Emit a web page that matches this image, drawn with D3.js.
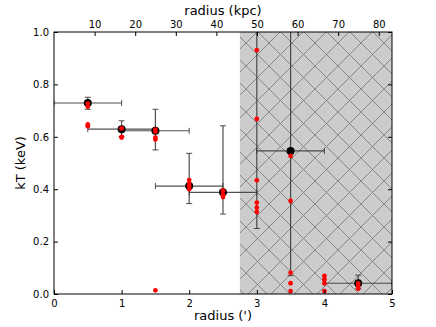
<!DOCTYPE html>
<html>
<head>
<meta charset="utf-8">
<script src="https://cdn.jsdelivr.net/npm/d3@7"></script>
<style>
  body { margin: 0; background: #fff; }
  text { font-family: "DejaVu Sans", sans-serif; fill: #000; }
</style>
</head>
<body>
<div id="chart"></div>
<script>
// binned fit results
const radius = [0.5, 1.0, 1.5, 2.0, 2.5, 3.0, 3.5, 4.5];
const rLo = [0.0, 0.5, 1.0, 1.5, 2.0, 2.5, 3.0, 4.0];
const rHi = [1.0, 1.5, 2.0, 2.5, 3.0, 3.5, 4.0, 5.0];
const kT = [0.729, 0.629, 0.623, 0.412, 0.388, 1.2, 0.546, 0.041];
const kTLo = [0.705, 0.60, 0.55, 0.345, 0.305, 0.25, 0.07, 0.02];
const kTHi = [0.751, 0.661, 0.705, 0.537, 0.642, 1.5, 1.5, 0.072];

// individual fits (red)
const redR = [0.5, 0.5, 0.5, 0.5, 1.0, 1.0, 1.0, 1.5, 1.5, 1.5, 1.5, 1.5,
  2.0, 2.0, 2.0, 2.0, 2.5, 2.5, 2.5, 3.0, 3.0, 3.0, 3.0, 3.0, 3.0,
  3.5, 3.5, 3.5, 3.5, 3.5, 4.0, 4.0, 4.0, 4.0, 4.5, 4.5, 4.5];
const redKT = [0.727, 0.715, 0.647, 0.64, 0.632, 0.60, 0.597, 0.627, 0.62, 0.597, 0.59, 0.014,
  0.435, 0.42, 0.41, 0.40, 0.395, 0.38, 0.37, 0.931, 0.668, 0.434, 0.349, 0.33, 0.313,
  0.527, 0.355, 0.081, 0.041, 0.011, 0.069, 0.056, 0.041, 0.011, 0.04, 0.03, 0.02];

const xTicks = [0, 1, 2, 3, 4, 5];
const yTicks = [0.0, 0.2, 0.4, 0.6, 0.8, 1.0];
const kpcTicks = [10, 20, 30, 40, 50, 60, 70, 80];
const kpcPerArcmin = 16.65;
const shadeFrom = 2.75;

const W = 436, H = 327;
const M = { left: 54, right: 44, top: 32, bottom: 33 };
const w = W - M.left - M.right, h = H - M.top - M.bottom;

const svg = d3.select("#chart").append("svg").attr("width", W).attr("height", H);
const g = svg.append("g").attr("transform", `translate(${M.left},${M.top})`);

const x = d3.scaleLinear().domain([0, 5]).range([0, w]);
const xk = d3.scaleLinear().domain([0, 5 * kpcPerArcmin]).range([0, w]);
const y = d3.scaleLinear().domain([0, 1]).range([h, 0]);

const defs = svg.append("defs");
defs.append("clipPath").attr("id", "clip")
  .append("rect").attr("width", w).attr("height", h);

// 'x' hatch
const hs = 23;
const pat = defs.append("pattern").attr("id", "hatch")
  .attr("patternUnits", "userSpaceOnUse")
  .attr("patternTransform", "translate(8,11)")
  .attr("width", hs).attr("height", hs);
pat.append("rect").attr("width", hs).attr("height", hs).attr("fill", "#cccccc");
pat.append("path")
  .attr("d", `M0,0L${hs},${hs}M${hs},0L0,${hs}M-1,${hs - 1}L1,${hs + 1}M${hs - 1},-1L${hs + 1},1M-1,1L1,-1M${hs - 1},${hs + 1}L${hs + 1},${hs - 1}`)
  .attr("stroke", "#7f7f7f").attr("stroke-width", 0.9);

const plot = g.append("g").attr("clip-path", "url(#clip)");

// shaded region
plot.append("rect")
  .attr("x", x(shadeFrom)).attr("y", 0)
  .attr("width", x(5) - x(shadeFrom)).attr("height", h)
  .attr("fill", "url(#hatch)");

// error bars
const errColor = "#333";
const bins = d3.range(radius.length);
plot.selectAll(".xerr").data(bins).enter().append("line")
  .attr("x1", i => x(rLo[i])).attr("x2", i => x(rHi[i]))
  .attr("y1", i => y(kT[i])).attr("y2", i => y(kT[i]))
  .attr("stroke", errColor).attr("stroke-width", 1.2).attr("opacity", 0.85);
plot.selectAll(".yerr").data(bins).enter().append("line")
  .attr("x1", i => x(radius[i])).attr("x2", i => x(radius[i]))
  .attr("y1", i => y(kTLo[i])).attr("y2", i => y(kTHi[i]))
  .attr("stroke", errColor).attr("stroke-width", 1.2).attr("opacity", 0.85);

// caps
const caps = [];
bins.forEach(i => {
  caps.push({ v: true, cx: x(rLo[i]), cy: y(kT[i]) });
  caps.push({ v: true, cx: x(rHi[i]), cy: y(kT[i]) });
  caps.push({ v: false, cx: x(radius[i]), cy: y(kTLo[i]) });
  caps.push({ v: false, cx: x(radius[i]), cy: y(kTHi[i]) });
});
plot.selectAll(".cap").data(caps).enter().append("line")
  .attr("x1", d => d.v ? d.cx : d.cx - 3).attr("x2", d => d.v ? d.cx : d.cx + 3)
  .attr("y1", d => d.v ? d.cy - 3 : d.cy).attr("y2", d => d.v ? d.cy + 3 : d.cy)
  .attr("stroke", errColor).attr("stroke-width", 1).attr("opacity", 0.85);

// black points
plot.selectAll(".pt").data(bins).enter().append("circle")
  .attr("cx", i => x(radius[i])).attr("cy", i => y(kT[i]))
  .attr("r", 4).attr("fill", "#000");

// red points
g.selectAll(".red").data(redR).enter().append("circle")
  .attr("cx", (d, i) => x(d)).attr("cy", (d, i) => y(redKT[i]))
  .attr("r", 2.4).attr("fill", "#ff0000");

// axes, ticks inward
g.append("g").attr("transform", `translate(0,${h})`)
  .call(d3.axisBottom(x).tickValues(xTicks).tickFormat(d3.format("d")).tickSizeInner(-4).tickSizeOuter(0).tickPadding(6));
g.append("g")
  .call(d3.axisTop(xk).tickValues(kpcTicks).tickFormat(d3.format("d")).tickSizeInner(-4).tickSizeOuter(0).tickPadding(4));
g.append("g")
  .call(d3.axisLeft(y).tickValues(yTicks).tickFormat(d3.format(".1f")).tickSizeInner(-4).tickSizeOuter(0).tickPadding(5));
g.append("g").attr("transform", `translate(${w},0)`)
  .call(d3.axisRight(y).tickValues(yTicks).tickFormat("").tickSizeInner(-4).tickSizeOuter(0));

g.selectAll(".domain").remove();
g.selectAll(".tick line").attr("stroke", "#000");
g.selectAll(".tick text").style("font-size", "10px").style("font-family", "DejaVu Sans");

g.append("rect").attr("width", w).attr("height", h)
  .attr("fill", "none").attr("stroke", "#000").attr("stroke-width", 1);

// labels
svg.append("text").attr("x", M.left + w / 2).attr("y", 15)
  .attr("text-anchor", "middle").style("font-size", "13px").text("radius (kpc)");
svg.append("text").attr("x", M.left + w / 2).attr("y", 320)
  .attr("text-anchor", "middle").style("font-size", "13px").text("radius (')");
svg.append("text")
  .attr("transform", `translate(25,${M.top + h / 2}) rotate(-90)`)
  .attr("text-anchor", "middle").style("font-size", "13px").text("kT (keV)");
</script>
</body>
</html>
